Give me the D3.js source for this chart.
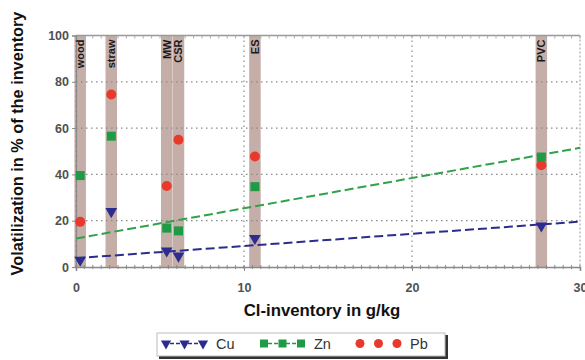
<!DOCTYPE html>
<html><head><meta charset="utf-8">
<script src="https://cdn.jsdelivr.net/npm/d3@7"></script>
<style>body{margin:0;background:#fff}svg{display:block}</style>
</head><body>
<svg id="c" width="585" height="360"></svg>
<script>
// Data
const materials = ["wood","straw","MW","CSR","ES","PVC"];
const clInventory = [0.25, 2.1, 5.4, 6.1, 10.65, 27.7];
const cuValues = [3, 24, 7, 4.8, 12.4, 17.8];
const znValues = [39.5, 56.5, 16.8, 15.6, 34.7, 47.5];
const pbValues = [19.5, 74.5, 35, 55, 47.7, 44];
const cuTrend = [[0, 3.8], [30, 19.6]];
const znTrend = [[0, 12.3], [30, 51.5]];
const xTicks = [0, 10, 20, 30];
const yTicks = [0, 20, 40, 60, 80, 100];

const svg = d3.select("#c");
const x = d3.scaleLinear().domain([0, 30]).range([76, 580]);
const y = d3.scaleLinear().domain([0, 100]).range([267, 35.5]);

const bandW = 11.5;
const bandColor = "#c5ada8";
const gridColor = "#8a8a8a";

// bands
svg.append("g").selectAll("rect").data(clInventory).join("rect")
  .attr("x", d => x(d) - bandW/2).attr("y", y(100))
  .attr("width", bandW).attr("height", y(0) - y(100))
  .attr("fill", bandColor);

// grid
const grid = svg.append("g").attr("stroke", gridColor).attr("stroke-width", 1.2)
  .attr("stroke-dasharray", "1.5,3.5");
grid.selectAll("line.h").data([20,40,60,80]).join("line")
  .attr("x1", x(0)).attr("x2", x(30)).attr("y1", d => y(d)).attr("y2", d => y(d));
grid.selectAll("line.v").data([0,10,20]).join("line")
  .attr("y1", y(0)).attr("y2", y(100)).attr("x1", d => x(d)).attr("x2", d => x(d));

// frame top/right
svg.append("line").attr("x1", x(0)).attr("x2", x(30)).attr("y1", y(100)).attr("y2", y(100))
  .attr("stroke", "#999").attr("stroke-width", 1.5);
svg.append("line").attr("x1", x(30)).attr("x2", x(30)).attr("y1", y(100)).attr("y2", y(0))
  .attr("stroke", "#aaa").attr("stroke-width", 1.2).attr("stroke-dasharray", "2,2");
svg.append("g").attr("stroke", "#aaa").selectAll("line").data(d3.range(0, 30.01, 0.5)).join("line")
  .attr("x1", d => x(d)).attr("x2", d => x(d)).attr("y1", y(100)).attr("y2", y(100) + 3);

// axes
const xAxis = d3.axisBottom(x).tickValues(xTicks).tickSize(4).tickPadding(12);
const gx = svg.append("g").attr("transform", `translate(0,${y(0)})`).call(xAxis);
gx.select(".domain").attr("stroke", "#888").attr("stroke-width", 1.5);
gx.selectAll(".tick line").attr("stroke", "#888");
gx.selectAll("text").attr("font-family", "Liberation Sans, Arial").attr("font-size", 12.5)
  .attr("font-weight", "bold").attr("fill", "#505050");
svg.append("g").attr("stroke", "#888").selectAll("line").data(d3.range(0, 30.01, 0.5)).join("line")
  .attr("x1", d => x(d)).attr("x2", d => x(d)).attr("y1", y(0) - 2).attr("y2", y(0) + 2);

const yAxis = d3.axisLeft(y).tickValues(yTicks).tickSize(4).tickPadding(3);
const gy = svg.append("g").attr("transform", `translate(${x(0)},0)`).call(yAxis);
gy.select(".domain").attr("stroke", "#888").attr("stroke-width", 1.2);
gy.selectAll(".tick line").attr("stroke", "#888");
gy.selectAll("text").attr("font-family", "Liberation Sans, Arial").attr("font-size", 12.5)
  .attr("font-weight", "bold").attr("fill", "#505050");

// band labels
svg.append("g").selectAll("text").data(materials).join("text")
  .attr("transform", (d, i) => `translate(${x(clInventory[i]) + 4},${y(100) + 4}) rotate(-90)`)
  .attr("text-anchor", "end")
  .attr("font-family", "Liberation Sans, Arial").attr("font-size", 11).attr("font-weight", "bold")
  .attr("fill", "#1a1a1a").text(d => d);

// trend lines
const line = d3.line().x(d => x(d[0])).y(d => y(d[1]));
svg.append("path").attr("d", line(znTrend)).attr("fill", "none")
  .attr("stroke", "#2fa24a").attr("stroke-width", 2).attr("stroke-dasharray", "9,4");
svg.append("path").attr("d", line(cuTrend)).attr("fill", "none")
  .attr("stroke", "#2b2d8e").attr("stroke-width", 2).attr("stroke-dasharray", "9,4");

// markers
const red = "#e8392b", green = "#1f9a45", navy = "#2b2d8e";
const tri = d3.symbol().type(d3.symbolTriangle).size(60);
svg.append("g").selectAll("circle").data(pbValues).join("circle")
  .attr("cx", (d, i) => x(clInventory[i])).attr("cy", d => y(d)).attr("r", 5).attr("fill", red);
svg.append("g").selectAll("rect").data(znValues).join("rect")
  .attr("x", (d, i) => x(clInventory[i]) - 4.5).attr("y", d => y(d) - 4.5)
  .attr("width", 9).attr("height", 9).attr("fill", green);
svg.append("g").selectAll("path").data(cuValues).join("path")
  .attr("d", tri)
  .attr("transform", (d, i) => `translate(${x(clInventory[i])},${y(d)}) rotate(180)`)
  .attr("fill", navy);

// axis titles
svg.append("text").attr("x", 322).attr("y", 316).attr("text-anchor", "middle")
  .attr("font-family", "Liberation Sans, Arial").attr("font-size", 16.8).attr("font-weight", "bold")
  .attr("fill", "#111").text("Cl-inventory in g/kg");
svg.append("text").attr("transform", "translate(23,143.5) rotate(-90)").attr("text-anchor", "middle")
  .attr("font-family", "Liberation Sans, Arial").attr("font-size", 16.3).attr("font-weight", "bold")
  .attr("fill", "#111").text("Volatilization in % of the inventory");

// legend
const lg = svg.append("g");
lg.append("rect").attr("x", 159).attr("y", 335).attr("width", 289).attr("height", 24).attr("fill", "#333");
lg.append("rect").attr("x", 157).attr("y", 333).attr("width", 288).attr("height", 23)
  .attr("fill", "#fff").attr("stroke", "#bbb");
const legendItems = [
  {name: "Cu", x0: 164, col: navy, kind: "tri"},
  {name: "Zn", x0: 262, col: green, kind: "sq"},
  {name: "Pb", x0: 358, col: red, kind: "circ"}
];
legendItems.forEach(it => {
  const cy = 343.5;
  if (it.kind !== "circ") {
    lg.append("line").attr("x1", it.x0).attr("x2", it.x0 + 40).attr("y1", cy).attr("y2", cy)
      .attr("stroke", it.col).attr("stroke-width", 1.5).attr("stroke-dasharray", "4,2");
  }
  [0, 1, 2].forEach(k => {
    const mx = it.x0 + 2 + k * 18.5;
    if (it.kind === "tri") lg.append("path").attr("d", d3.symbol().type(d3.symbolTriangle).size(45)())
      .attr("transform", `translate(${mx},${cy}) rotate(180)`).attr("fill", it.col);
    else if (it.kind === "sq") lg.append("rect").attr("x", mx - 4).attr("y", cy - 4).attr("width", 8).attr("height", 8).attr("fill", it.col);
    else lg.append("circle").attr("cx", mx).attr("cy", cy).attr("r", 4.5).attr("fill", it.col);
  });
  lg.append("text").attr("x", it.x0 + 52).attr("y", cy + 5.5)
    .attr("font-family", "Liberation Sans, Arial").attr("font-size", 14.5).attr("fill", "#333").text(it.name);
});
</script>
</body></html>
